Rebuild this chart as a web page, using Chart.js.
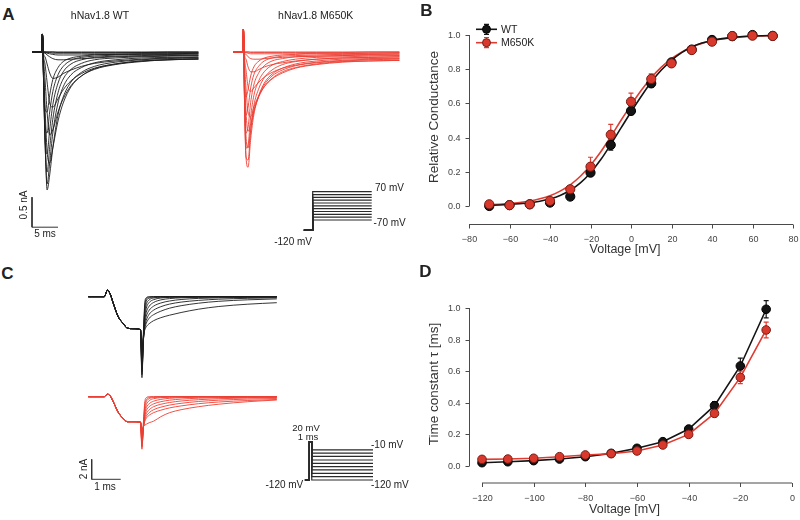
<!DOCTYPE html>
<html><head><meta charset="utf-8">
<script src="https://cdn.jsdelivr.net/npm/chart.js@4.4.1/dist/chart.umd.min.js"></script>
<style>
html,body{margin:0;padding:0;background:#fff;}
#fig{position:relative;width:800px;height:520px;overflow:hidden;background:#fff;font-family:"Liberation Sans",Arial,sans-serif;color:#222;}
canvas{position:absolute;}
.t{position:absolute;white-space:nowrap;line-height:1;}
</style></head><body><div id="fig">
<canvas id="cA" width="380" height="225" style="left:20px;top:20px"></canvas>
<canvas id="cB" width="400" height="260" style="left:400px;top:0px"></canvas>
<canvas id="cC" width="360" height="230" style="left:60px;top:270px"></canvas>
<canvas id="cD" width="400" height="260" style="left:400px;top:260px"></canvas>
</div>
<script>
// ---------------- DATA ----------------
const SERIES = ['WT', 'M650K'];
// Panel A: current traces (time in ms, current in nA), one trace per test step
const STEP_V = [-70,-60,-50,-40,-30,-20,-10,0,10,20,30,40,50,60,70];
const T_A = [0,1.9,2.0,2.2,2.5,2.9,3.4,4.0,5.0,6.0,7.5,9.5,12,16,21,26,32];
const WT_TRACES = [
 [0,0,0.3,0,0,0,0,0,0,0,0,0,0,0,0,0,0],
 [0,0,0.3,0,0,0,0,0,-0.01,-0.01,-0.01,-0.01,-0.01,-0.01,-0.01,0,0],
 [0,0,0.3,0,0,-0.01,-0.01,-0.02,-0.02,-0.02,-0.02,-0.02,-0.02,-0.02,-0.01,-0.01,-0.01],
 [0,0,0.3,0,-0.01,-0.02,-0.03,-0.04,-0.05,-0.05,-0.05,-0.05,-0.04,-0.04,-0.03,-0.03,-0.02],
 [0,0,0.3,0,-0.02,-0.05,-0.08,-0.11,-0.13,-0.13,-0.12,-0.11,-0.1,-0.08,-0.07,-0.06,-0.05],
 [0,0,0.3,-0.02,-0.08,-0.2,-0.35,-0.44,-0.42,-0.36,-0.3,-0.24,-0.19,-0.15,-0.12,-0.1,-0.09],
 [0,0,0.3,-0.05,-0.2,-0.5,-0.85,-0.92,-0.78,-0.63,-0.48,-0.36,-0.27,-0.2,-0.15,-0.13,-0.11],
 [0,0,0.3,-0.1,-0.45,-1.0,-1.38,-1.3,-1.0,-0.78,-0.56,-0.4,-0.29,-0.21,-0.16,-0.13,-0.12],
 [0,0,0.3,-0.2,-0.9,-1.65,-1.85,-1.6,-1.15,-0.85,-0.58,-0.4,-0.28,-0.2,-0.15,-0.13,-0.12],
 [0,0,0.3,-0.3,-1.3,-2.3,-2.05,-1.6,-1.05,-0.75,-0.5,-0.34,-0.24,-0.17,-0.13,-0.11,-0.1],
 [0,0,0.3,-0.35,-1.45,-2.2,-1.85,-1.35,-0.85,-0.58,-0.38,-0.26,-0.18,-0.13,-0.1,-0.09,-0.08],
 [0,0,0.3,-0.4,-1.5,-2.0,-1.6,-1.12,-0.68,-0.45,-0.29,-0.19,-0.13,-0.1,-0.08,-0.07,-0.06],
 [0,0,0.3,-0.4,-1.4,-1.7,-1.3,-0.88,-0.52,-0.33,-0.2,-0.13,-0.09,-0.07,-0.06,-0.05,-0.05],
 [0,0,0.3,-0.4,-1.2,-1.35,-1.0,-0.66,-0.38,-0.24,-0.14,-0.09,-0.07,-0.05,-0.04,-0.04,-0.03],
 [0,0,0.3,-0.35,-0.95,-1.0,-0.72,-0.46,-0.26,-0.16,-0.1,-0.07,-0.05,-0.04,-0.03,-0.03,-0.02]
];
const M650K_TRACES = [
 [0,0,0.38,0,0,0,0,0,0,0,0,0,0,0,0,0,0],
 [0,0,0.38,0,0,0,-0.01,-0.01,-0.01,-0.01,-0.01,-0.01,-0.01,-0.01,-0.01,0,0],
 [0,0,0.38,0,-0.01,-0.02,-0.03,-0.03,-0.03,-0.03,-0.03,-0.03,-0.03,-0.02,-0.02,-0.02,-0.01],
 [0,0,0.38,-0.01,-0.04,-0.08,-0.11,-0.12,-0.12,-0.11,-0.1,-0.09,-0.08,-0.07,-0.06,-0.05,-0.05],
 [0,0,0.38,-0.03,-0.12,-0.25,-0.33,-0.33,-0.29,-0.25,-0.21,-0.18,-0.15,-0.12,-0.1,-0.09,-0.08],
 [0,0,0.38,-0.08,-0.3,-0.58,-0.66,-0.6,-0.5,-0.42,-0.34,-0.27,-0.22,-0.17,-0.14,-0.12,-0.11],
 [0,0,0.38,-0.15,-0.6,-1.0,-1.08,-0.92,-0.72,-0.58,-0.45,-0.35,-0.27,-0.21,-0.17,-0.15,-0.14],
 [0,0,0.38,-0.3,-1.0,-1.32,-1.2,-0.98,-0.74,-0.58,-0.44,-0.33,-0.26,-0.2,-0.16,-0.15,-0.14],
 [0,0,0.38,-0.5,-1.4,-1.6,-1.3,-1.0,-0.72,-0.55,-0.4,-0.3,-0.23,-0.18,-0.15,-0.13,-0.12],
 [0,0,0.38,-0.7,-1.75,-1.92,-1.45,-1.05,-0.72,-0.52,-0.37,-0.27,-0.2,-0.15,-0.12,-0.11,-0.1],
 [0,0,0.38,-0.75,-1.75,-1.8,-1.3,-0.9,-0.6,-0.43,-0.3,-0.21,-0.16,-0.12,-0.1,-0.09,-0.08],
 [0,0,0.38,-0.75,-1.6,-1.55,-1.08,-0.73,-0.47,-0.33,-0.22,-0.16,-0.12,-0.09,-0.08,-0.07,-0.06],
 [0,0,0.38,-0.7,-1.35,-1.25,-0.84,-0.55,-0.34,-0.23,-0.15,-0.11,-0.08,-0.07,-0.06,-0.05,-0.05],
 [0,0,0.38,-0.6,-1.05,-0.92,-0.6,-0.38,-0.23,-0.15,-0.1,-0.07,-0.06,-0.05,-0.04,-0.04,-0.03],
 [0,0,0.38,-0.45,-0.75,-0.62,-0.4,-0.25,-0.15,-0.1,-0.07,-0.05,-0.04,-0.03,-0.03,-0.02,-0.02]
];
const SCALEBAR_A = {ms: 5, nA: 0.5};
const PROTO_A_HOLD = -120;
const PROTO_A_LEVELS = [70,56,42,28,14,0,-14,-28,-42,-56,-70];

// Panel B: conductance-voltage
const B_VOLT = [-70,-60,-50,-40,-30,-20,-10,0,10,20,30,40,50,60,70];
const B_WT_G = [0.0,0.005,0.01,0.02,0.055,0.195,0.357,0.556,0.717,0.84,0.915,0.971,0.993,1.0,0.995];
const B_WT_SEM = [0.005,0.004,0.005,0.008,0.012,0.022,0.03,0.022,0.02,0.015,0.01,0.008,0.005,0.004,0.004];
const B_M650K_G = [0.01,0.005,0.01,0.03,0.098,0.23,0.417,0.61,0.743,0.834,0.912,0.961,0.994,0.996,0.994];
const B_M650K_SEM = [0.006,0.004,0.005,0.01,0.02,0.055,0.06,0.05,0.03,0.015,0.01,0.008,0.005,0.004,0.004];
const FIT_VOLT = [-70,-65,-60,-55,-50,-45,-40,-35,-30,-25,-20,-15,-10,-5,0,5,10,15,20,25,30,35,40,45,50,55,60,65,70];
const FIT_WT = [0.004,0.006,0.009,0.013,0.019,0.028,0.042,0.062,0.092,0.135,0.195,0.27,0.36,0.455,0.55,0.64,0.725,0.795,0.852,0.897,0.93,0.953,0.968,0.979,0.986,0.991,0.994,0.996,0.997];
const FIT_M650K = [0.007,0.01,0.014,0.02,0.029,0.042,0.06,0.087,0.124,0.174,0.238,0.316,0.405,0.5,0.59,0.675,0.75,0.812,0.862,0.9,0.93,0.951,0.966,0.977,0.984,0.989,0.993,0.995,0.997];
const B_X_TICKS = [-80,-60,-40,-20,0,20,40,60,80];
const B_Y_TICKS = [0,0.2,0.4,0.6,0.8,1.0];

// Panel C: deactivation tail currents (time ms, current nA)
const C_T = [0,0.55,0.66,0.75,0.86,1.03,1.21,1.35,1.55,1.8,1.85,1.9,1.95,2.0,2.1,2.25,2.5,2.8,3.2,3.8,4.5,5.5,6.5];
const C_WT_PRE = [0,0,0.65,0.3,-0.65,-2.0,-2.7,-3.15,-3.2,-3.3];
const C_WT_SPIKE = [-8.1,-7.8,-7.5,-7.2,-6.9,-6.6,-6.3,-6.0,-5.6,-5.2];
const C_WT_TAIL = [
 [-3.6,-0.6,-0.1,0,0,0,0,0,0,0,0,0],
 [-3.9,-0.9,-0.25,-0.05,0,0,0,0,0,0,0,0],
 [-4.1,-1.25,-0.45,-0.15,-0.05,0,0,0,0,0,0,0],
 [-4.3,-1.65,-0.78,-0.32,-0.13,-0.05,-0.02,0,0,0,0,0],
 [-4.4,-2.05,-1.15,-0.58,-0.3,-0.13,-0.07,-0.03,-0.01,0,0,0],
 [-4.4,-2.35,-1.55,-0.95,-0.58,-0.32,-0.19,-0.11,-0.06,-0.03,-0.01,0],
 [-4.3,-2.65,-1.95,-1.35,-0.95,-0.63,-0.43,-0.28,-0.17,-0.11,-0.07,-0.05],
 [-4.2,-2.95,-2.35,-1.75,-1.35,-1.0,-0.74,-0.54,-0.37,-0.25,-0.16,-0.11],
 [-4.1,-3.15,-2.65,-2.15,-1.8,-1.45,-1.15,-0.9,-0.65,-0.46,-0.31,-0.22],
 [-3.9,-3.3,-3.0,-2.7,-2.4,-2.1,-1.85,-1.58,-1.25,-0.98,-0.75,-0.6]
];
const C_M650K_PRE = [0,0,0.25,0.1,-0.5,-1.55,-2.2,-2.5,-2.5,-2.55];
const C_M650K_SPIKE = [-5.25,-5.05,-4.85,-4.65,-4.45,-4.25,-4.05,-3.85,-3.65,-3.45];
const C_M650K_TAIL = [
 [-2.6,-0.5,-0.1,0,0,0,0,0,0,0,0,0],
 [-2.8,-0.8,-0.3,-0.08,-0.02,0,0,0,0,0,0,0],
 [-3.0,-1.1,-0.5,-0.2,-0.08,-0.03,0,0,0,0,0,0],
 [-3.1,-1.4,-0.8,-0.4,-0.2,-0.1,-0.05,-0.02,0,0,0,0],
 [-3.1,-1.7,-1.1,-0.7,-0.45,-0.27,-0.16,-0.1,-0.05,-0.03,-0.01,0],
 [-3.1,-1.95,-1.4,-1.0,-0.72,-0.5,-0.35,-0.24,-0.15,-0.1,-0.06,-0.04],
 [-3.05,-2.15,-1.7,-1.3,-1.0,-0.76,-0.58,-0.43,-0.3,-0.2,-0.13,-0.09],
 [-3.0,-2.3,-1.95,-1.6,-1.3,-1.05,-0.84,-0.66,-0.48,-0.35,-0.24,-0.18],
 [-2.95,-2.45,-2.15,-1.85,-1.6,-1.35,-1.12,-0.92,-0.7,-0.53,-0.38,-0.28],
 [-3.0,-2.85,-2.75,-2.6,-2.45,-2.0,-1.6,-1.3,-1.0,-0.75,-0.5,-0.33]
];
const SCALEBAR_C = {ms: 1, nA: 2};
const PROTO_C_HOLD = -120, PROTO_C_PULSE = 20, PROTO_C_PULSE_MS = 1;
const PROTO_C_LEVELS = [-10,-22,-34,-47,-59,-71,-83,-96,-108,-120];

// Panel D: time constants
const D_VOLT = [-120,-110,-100,-90,-80,-70,-60,-50,-40,-30,-20,-10];
const D_WT_TAU = [0.021,0.027,0.034,0.044,0.059,0.08,0.112,0.154,0.234,0.382,0.633,0.992];
const D_WT_SEM = [0.003,0.003,0.003,0.004,0.005,0.006,0.008,0.01,0.015,0.025,0.05,0.055];
const D_M650K_TAU = [0.042,0.044,0.049,0.059,0.07,0.078,0.095,0.133,0.2,0.333,0.561,0.861];
const D_M650K_SEM = [0.004,0.004,0.004,0.005,0.005,0.006,0.008,0.01,0.012,0.02,0.04,0.05];
const D_X_TICKS = [-120,-100,-80,-60,-40,-20,0];
const D_Y_TICKS = [0,0.2,0.4,0.6,0.8,1.0];

// ---------------- STYLE ----------------
const FONT = '"Liberation Sans", Arial, sans-serif';
const BLACK = '#141414', RED_LINE = '#e03b30', RED_FILL = '#d9392d', RED_EDGE = '#7a1c14';
const TRACE_BLACK = '#1e1e1e', TRACE_RED = '#ec4034', PROTO = '#2a2a2a';

const pts = (xs, ys) => xs.map((x, i) => ({x, y: ys[i]}));
const base = {responsive:false, animation:false, devicePixelRatio:1, events:[],
  plugins:{legend:{display:false}, tooltip:{enabled:false}}};

// ---------------- PLUGINS ----------------
const rAxisPlugin = {
  id:'rAxis',
  afterDraw(chart, args, o){
    const ctx = chart.ctx, xs = chart.scales.x, ys = chart.scales.y;
    ctx.save();
    ctx.strokeStyle = '#4a4a4a'; ctx.lineWidth = 1; ctx.fillStyle = '#444';
    const seg = (a,b,c,d) => {ctx.beginPath(); ctx.moveTo(a,b); ctx.lineTo(c,d); ctx.stroke();};
    const yx = o.yAxisX + 0.5;
    const ya = ys.getPixelForValue(o.yTicks[0]), yb = ys.getPixelForValue(o.yTicks[o.yTicks.length-1]);
    seg(yx, ya, yx, yb);
    ctx.font = '9px ' + FONT; ctx.textAlign = 'right'; ctx.textBaseline = 'middle';
    o.yTicks.forEach(v => { const p = Math.round(ys.getPixelForValue(v)) + 0.5;
      seg(yx - 4, p, yx, p); ctx.fillText(v.toFixed(1), yx - 9, p); });
    const xy = o.xAxisY + 0.5;
    const xa = xs.getPixelForValue(o.xTicks[0]), xb = xs.getPixelForValue(o.xTicks[o.xTicks.length-1]);
    seg(xa, xy, xb, xy);
    ctx.textAlign = 'center';
    o.xTicks.forEach(v => { const p = Math.round(xs.getPixelForValue(v)) + 0.5;
      seg(p, xy, p, xy + 4); ctx.fillText(v < 0 ? '\u2212' + Math.abs(v) : String(v), p, o.xLabelY); });
    ctx.fillStyle = '#333';
    ctx.font = '12.5px ' + FONT; ctx.fillText(o.xTitle, o.xTitleX, o.xTitleY);
    ctx.save(); ctx.translate(o.yTitleX, o.yTitleY); ctx.rotate(-Math.PI/2);
    ctx.font = '13.5px ' + FONT; ctx.fillText(o.yTitle, 0, 0); ctx.restore();
    ctx.restore();
  }
};
const errPlugin = {
  id:'errBars',
  beforeDatasetsDraw(chart, args, o){
    const ctx = chart.ctx, xs = chart.scales.x, ys = chart.scales.y;
    ctx.save(); ctx.lineWidth = 1.2;
    o.sets.forEach(s => {
      ctx.strokeStyle = s.color;
      s.x.forEach((xv, i) => {
        const px = xs.getPixelForValue(xv);
        const top = ys.getPixelForValue(s.y[i] + s.err[i]), bot = ys.getPixelForValue(s.y[i] - s.err[i]);
        ctx.beginPath(); ctx.moveTo(px, top); ctx.lineTo(px, bot);
        ctx.moveTo(px - 2.5, top); ctx.lineTo(px + 2.5, top);
        ctx.moveTo(px - 2.5, bot); ctx.lineTo(px + 2.5, bot); ctx.stroke();
      });
    });
    ctx.restore();
  }
};
const legendPlugin = {
  id:'bLegend',
  afterDraw(chart, args, o){
    const ctx = chart.ctx; ctx.save();
    o.items.forEach(it => {
      ctx.strokeStyle = it.line; ctx.lineWidth = 1.6;
      ctx.beginPath(); ctx.moveTo(o.x0, it.y); ctx.lineTo(o.x1, it.y); ctx.stroke();
      const cx = (o.x0 + o.x1) / 2;
      ctx.lineWidth = 1.2; ctx.beginPath();
      ctx.moveTo(cx, it.y - 5); ctx.lineTo(cx, it.y + 5);
      ctx.moveTo(cx - 2.5, it.y - 5); ctx.lineTo(cx + 2.5, it.y - 5);
      ctx.moveTo(cx - 2.5, it.y + 5); ctx.lineTo(cx + 2.5, it.y + 5); ctx.stroke();
      ctx.beginPath(); ctx.arc(cx, it.y, 4, 0, Math.PI*2);
      ctx.fillStyle = it.fill; ctx.fill(); ctx.strokeStyle = it.edge; ctx.lineWidth = 1; ctx.stroke();
      ctx.fillStyle = '#222'; ctx.font = '10.5px ' + FONT; ctx.textAlign = 'left'; ctx.textBaseline = 'middle';
      ctx.fillText(it.text, o.x1 + 4, it.y + 0.5);
    });
    ctx.restore();
  }
};

// ---------------- PANEL A ----------------
const lineDs = (data, xid, yid, color, w, mono) => ({data, xAxisID:xid, yAxisID:yid, showLine:true,
  pointRadius:0, borderColor:color, borderWidth:w, cubicInterpolationMode: mono ? 'monotone' : 'default', tension:0});
const dsA = [];
WT_TRACES.forEach((v, k) => dsA.push(Object.assign(lineDs(pts(T_A, v), 'xW', 'yA', TRACE_BLACK, 0.9, true), {label:'WT ' + STEP_V[k] + ' mV'})));
M650K_TRACES.forEach((v, k) => dsA.push(Object.assign(lineDs(pts(T_A, v), 'xM', 'yA', TRACE_RED, 0.9, true), {label:'M650K ' + STEP_V[k] + ' mV'})));
const sbA0 = -2.42;
dsA.push(lineDs([{x:0, y:sbA0}, {x:0, y:sbA0 - SCALEBAR_A.nA}, {x:SCALEBAR_A.ms, y:sbA0 - SCALEBAR_A.nA}], 'xW', 'yA', '#333', 1, false));
PROTO_A_LEVELS.forEach(L => dsA.push(lineDs([{x:-3, y:PROTO_A_HOLD}, {x:0, y:PROTO_A_HOLD}, {x:0, y:L}, {x:20, y:L}], 'xP', 'yP', PROTO, 1.2, false)));

new Chart(document.getElementById('cA'), {
  type:'scatter', data:{datasets: dsA},
  options:Object.assign({}, base, {layout:{padding:0}, scales:{
    xW:{type:'linear', axis:'x', display:false, min:-2.3077, max:70.769},
    xM:{type:'linear', axis:'x', display:false, min:-40.962, max:32.115},
    yA:{type:'linear', axis:'y', display:false, min:-3.2167, max:0.5333},
    xP:{type:'linear', axis:'x', display:false, min:-99.22, max:29.59},
    yP:{type:'linear', axis:'y', display:false, min:-193.7, max:919.6}
  }})
});

// ---------------- PANEL B ----------------
new Chart(document.getElementById('cB'), {
  type:'scatter',
  data:{datasets:[
    {label:SERIES[1], data:pts(B_VOLT, B_M650K_G), backgroundColor:RED_FILL, borderColor:RED_EDGE, borderWidth:1, pointRadius:4.6, order:0, clip:false},
    {label:SERIES[0], data:pts(B_VOLT, B_WT_G), backgroundColor:BLACK, borderColor:'#000', borderWidth:1, pointRadius:4.6, order:1, clip:false},
    {label:SERIES[0] + ' fit', data:pts(FIT_VOLT, FIT_WT), showLine:true, pointRadius:0, borderColor:BLACK, borderWidth:1.6, cubicInterpolationMode:'monotone', order:2, clip:false},
    {label:SERIES[1] + ' fit', data:pts(FIT_VOLT, FIT_M650K), showLine:true, pointRadius:0, borderColor:RED_LINE, borderWidth:1.6, cubicInterpolationMode:'monotone', order:3, clip:false}
  ]},
  options:Object.assign({}, base, {
    layout:{padding:{left:69, right:7, top:35, bottom:54}},
    scales:{x:{type:'linear', display:false, min:-80, max:80}, y:{type:'linear', display:false, min:0, max:1}},
    plugins:{legend:{display:false}, tooltip:{enabled:false},
      rAxis:{xTicks:B_X_TICKS, yTicks:B_Y_TICKS, yAxisX:69, xAxisY:224, xLabelY:239.5,
        xTitle:'Voltage [mV]', xTitleX:225, xTitleY:250, yTitle:'Relative Conductance', yTitleX:34, yTitleY:117},
      errBars:{sets:[{x:B_VOLT, y:B_WT_G, err:B_WT_SEM, color:BLACK}, {x:B_VOLT, y:B_M650K_G, err:B_M650K_SEM, color:RED_LINE}]},
      bLegend:{x0:76, x1:97, items:[{text:SERIES[0], y:29.3, line:BLACK, fill:BLACK, edge:'#000'}, {text:SERIES[1], y:42.7, line:RED_LINE, fill:RED_FILL, edge:RED_EDGE}]}
    }
  }),
  plugins:[rAxisPlugin, errPlugin, legendPlugin]
});

// ---------------- PANEL C ----------------
const dsC = [];
C_WT_TAIL.forEach((tail, k) => dsC.push(lineDs(pts(C_T, C_WT_PRE.concat([C_WT_SPIKE[k]], tail)), 'xC', 'yCB', TRACE_BLACK, 0.9, true)));
C_M650K_TAIL.forEach((tail, k) => dsC.push(lineDs(pts(C_T, C_M650K_PRE.concat([C_M650K_SPIKE[k]], tail)), 'xC', 'yCR', TRACE_RED, 0.9, true)));
const sbC = {t:0.117, i:-6.26};
dsC.push(lineDs([{x:sbC.t, y:sbC.i}, {x:sbC.t, y:sbC.i - SCALEBAR_C.nA}, {x:sbC.t + SCALEBAR_C.ms, y:sbC.i - SCALEBAR_C.nA}], 'xC', 'yCR', '#333', 1, false));
PROTO_C_LEVELS.forEach(L => dsC.push(lineDs([{x:-1.8, y:PROTO_C_HOLD}, {x:0, y:PROTO_C_HOLD}, {x:0, y:PROTO_C_PULSE},
  {x:PROTO_C_PULSE_MS, y:PROTO_C_PULSE}, {x:PROTO_C_PULSE_MS, y:L}, {x:26, y:L}], 'xPC', 'yPC', PROTO, 1.2, false)));

new Chart(document.getElementById('cC'), {
  type:'scatter', data:{datasets: dsC},
  options:Object.assign({}, base, {layout:{padding:0}, scales:{
    xC:{type:'linear', axis:'x', display:false, min:-0.9759, max:11.4379},
    yCB:{type:'linear', axis:'y', display:false, min:-20.33, max:2.67},
    yCR:{type:'linear', axis:'y', display:false, min:-10.33, max:12.67},
    xPC:{type:'linear', axis:'x', display:false, min:-101.76, max:45.18},
    yPC:{type:'linear', axis:'y', display:false, min:-193.1, max:647.5}
  }})
});

// ---------------- PANEL D ----------------
new Chart(document.getElementById('cD'), {
  type:'scatter',
  data:{datasets:[
    {label:SERIES[1], data:pts(D_VOLT, D_M650K_TAU), showLine:true, borderColor:RED_LINE, borderWidth:1.6,
      pointBackgroundColor:RED_FILL, pointBorderColor:RED_EDGE, pointBorderWidth:1, pointRadius:4.3, order:0, clip:false},
    {label:SERIES[0], data:pts(D_VOLT, D_WT_TAU), showLine:true, borderColor:BLACK, borderWidth:1.6,
      pointBackgroundColor:BLACK, pointBorderColor:'#000', pointBorderWidth:1, pointRadius:4.3, order:1, clip:false}
  ]},
  options:Object.assign({}, base, {
    layout:{padding:{left:82, right:8, top:48, bottom:54}},
    scales:{x:{type:'linear', display:false, min:-120, max:0}, y:{type:'linear', display:false, min:0, max:1}},
    plugins:{legend:{display:false}, tooltip:{enabled:false},
      rAxis:{xTicks:D_X_TICKS, yTicks:D_Y_TICKS, yAxisX:69, xAxisY:222.5, xLabelY:238.3,
        xTitle:'Voltage [mV]', xTitleX:224.5, xTitleY:250, yTitle:'Time constant \u03c4 [ms]', yTitleX:34, yTitleY:124},
      errBars:{sets:[{x:D_VOLT, y:D_WT_TAU, err:D_WT_SEM, color:BLACK}, {x:D_VOLT, y:D_M650K_TAU, err:D_M650K_SEM, color:RED_LINE}]}
    }
  }),
  plugins:[rAxisPlugin, errPlugin]
});

// ---------------- TEXT ----------------
const fig = document.getElementById('fig');
function label(text, x, y, size, opts){
  opts = opts || {};
  const d = document.createElement('div'); d.className = 't'; d.textContent = text;
  d.style.left = x + 'px'; d.style.top = y + 'px'; d.style.fontSize = size + 'px';
  if (opts.bold) d.style.fontWeight = 'bold';
  const ax = opts.align === 'left' ? '0' : opts.align === 'right' ? '-100%' : '-50%';
  d.style.transform = 'translate(' + ax + ',-50%)' + (opts.rot ? ' rotate(-90deg)' : '');
  fig.appendChild(d);
}
label('A', 8.5, 13.5, 17, {bold:true});
label('B', 426.5, 10, 17, {bold:true});
label('C', 7.5, 272.5, 17, {bold:true});
label('D', 425.5, 270.5, 17, {bold:true});
label('hNav1.8 ' + SERIES[0], 100, 15, 10.5);
label('hNav1.8 ' + SERIES[1], 315.7, 15, 10.5);
label(SCALEBAR_A.nA + ' nA', 24, 205, 10, {rot:true});
label(SCALEBAR_A.ms + ' ms', 45, 233.5, 10);
label(PROTO_A_LEVELS[0] + ' mV', 375, 188, 10, {align:'left'});
label(PROTO_A_LEVELS[PROTO_A_LEVELS.length-1] + ' mV', 373.5, 222.5, 10, {align:'left'});
label(PROTO_A_HOLD + ' mV', 312, 241.5, 10, {align:'right'});
label(SCALEBAR_C.nA + ' nA', 83.7, 469.3, 10, {rot:true});
label(SCALEBAR_C.ms + ' ms', 105, 487, 10);
label(PROTO_C_PULSE + ' mV', 306, 428.3, 9.5);
label(PROTO_C_PULSE_MS + ' ms', 308, 436.7, 9.5);
label(PROTO_C_LEVELS[0] + ' mV', 371, 445, 10, {align:'left'});
label(PROTO_C_HOLD + ' mV', 303.3, 485, 10, {align:'right'});
label(PROTO_C_LEVELS[PROTO_C_LEVELS.length-1] + ' mV', 371, 485, 10, {align:'left'});
</script>
</body></html>
